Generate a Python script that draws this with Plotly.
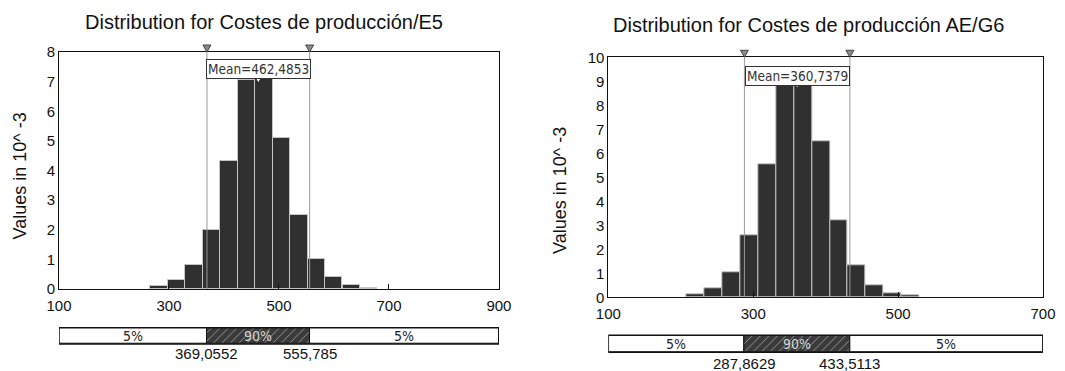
import plotly.graph_objects as go

# ---------------- data ----------------
left_title = "Distribution for Costes de producción/E5"
left_bin_centers = [281.9, 313.7, 345.5, 377.2, 409.0, 440.8, 472.5, 504.3, 536.0, 567.8, 599.6, 631.4, 663.1]
left_bin_width = 31.77
left_values = [0.10, 0.30, 0.80, 2.00, 4.33, 7.05, 7.15, 5.11, 2.51, 1.01, 0.40, 0.14, 0.04]
left_mean = 462.4853
left_p5 = 369.0552
left_p95 = 555.785
left_x_range = [100, 900]
left_x_ticks = [100, 300, 500, 700, 900]
left_y_range = [0, 8]
left_y_ticks = [0, 1, 2, 3, 4, 5, 6, 7, 8]
left_mean_label = "Mean=462,4853"
left_p5_label = "369,0552"
left_p95_label = "555,785"

right_title = "Distribution for Costes de producción AE/G6"
right_bin_centers = [220.6, 245.3, 270.0, 294.7, 319.4, 344.1, 368.8, 393.5, 418.2, 442.9, 467.6, 492.3, 517.0]
right_bin_width = 24.7
right_values = [0.14, 0.39, 1.03, 2.57, 5.55, 8.87, 8.87, 6.51, 3.21, 1.32, 0.50, 0.18, 0.07]
right_mean = 360.7379
right_p5 = 287.8629
right_p95 = 433.5113
right_x_range = [100, 700]
right_x_ticks = [100, 300, 500, 700]
right_y_range = [0, 10]
right_y_ticks = [0, 1, 2, 3, 4, 5, 6, 7, 8, 9, 10]
right_mean_label = "Mean=360,7379"
right_p5_label = "287,8629"
right_p95_label = "433,5113"

y_axis_label = "Values in 10^ -3"
band_labels = ["5%", "90%", "5%"]

# ---------------- styles ----------------
FONT = "Liberation Sans, Arial, sans-serif"
NARROW = "Liberation Sans Narrow, Arial Narrow, DejaVu Sans Condensed, sans-serif"
BAR_COLOR = "#303030"
BAR_EDGE = "#c4c4c4"

fig = go.Figure()

panels = [
    dict(title=left_title, centers=left_bin_centers, width=left_bin_width, values=left_values,
         mean=left_mean, p5=left_p5, p95=left_p95, xr=left_x_range, xt=left_x_ticks,
         yr=left_y_range, yt=left_y_ticks, mlabel=left_mean_label, p5l=left_p5_label,
         p95l=left_p95_label, xdom=[0.0554, 0.4685], ydom=[0.2210, 0.8598],
         bdom=[0.0728, 0.1167], plab_y=0.0476, title_xy=(0.2479, 0.9415),
         ylab_xy=(0.0188, 0.5243), mshift=-7, ax="", bax="3"),
    dict(title=right_title, centers=right_bin_centers, width=right_bin_width, values=right_values,
         mean=right_mean, p5=right_p5, p95=right_p95, xr=right_x_range, xt=right_x_ticks,
         yr=right_y_range, yt=right_y_ticks, mlabel=right_mean_label, p5l=right_p5_label,
         p95l=right_p95_label, xdom=[0.5712, 0.9793], ydom=[0.1987, 0.8456],
         bdom=[0.0504, 0.0962], plab_y=0.0207, title_xy=(0.7590, 0.9326),
         ylab_xy=(0.5258, 0.4879), mshift=-9, ax="2", bax="4"),
]

annotations = []
shapes = []
layout_axes = {}

for p in panels:
    ax, bax = p["ax"], p["bax"]
    xref = "x" + ax
    yref = "y" + ax
    # histogram
    fig.add_trace(go.Bar(
        x=p["centers"], y=p["values"], width=p["width"],
        marker=dict(color=BAR_COLOR, line=dict(color=BAR_EDGE, width=1)),
        xaxis=xref, yaxis=yref, hoverinfo="skip",
    ))
    # percentile band bar
    bases = [p["xr"][0], p["p5"], p["p95"]]
    lengths = [p["p5"] - p["xr"][0], p["p95"] - p["p5"], p["xr"][1] - p["p95"]]
    fig.add_trace(go.Bar(
        orientation="h", y=[0, 0, 0], x=lengths, base=bases, width=1,
        textposition="none",
        marker=dict(
            color=["white", "#3a3a3a", "white"],
            line=dict(color="#111111", width=1),
            pattern=dict(shape=["", "/", ""], fgcolor=["white", "#8c8c8c", "white"],
                         bgcolor=["white", "#3a3a3a", "white"], size=6, solidity=0.15),
        ),
        xaxis="x" + bax, yaxis="y" + bax, hoverinfo="skip",
    ))
    # outline round the band
    shapes.append(dict(type="rect", xref="x" + bax, yref="y" + bax + " domain",
                       x0=p["xr"][0], x1=p["xr"][1], y0=0, y1=1,
                       line=dict(color="#111111", width=1.5), fillcolor="rgba(0,0,0,0)"))
    # band labels (centred in each segment)
    for b, L, lab, col in zip(bases, lengths, band_labels, ["#222222", "#d8d8d8", "#222222"]):
        annotations.append(dict(
            text=lab, x=b + L / 2, xref="x" + bax, y=0, yref="y" + bax, showarrow=False,
            xanchor="center", yanchor="middle",
            font=dict(family=NARROW, size=14, color=col),
        ))

    layout_axes["xaxis" + ax] = dict(
        domain=p["xdom"], range=p["xr"], tickvals=p["xt"], ticktext=[str(v) for v in p["xt"]],
        ticks="inside", ticklen=5, tickcolor="#111111", showgrid=False, zeroline=False,
        showline=True, linecolor="#111111", linewidth=1, mirror=True, automargin=False,
        ticklabelstandoff=3,
        tickfont=dict(family=FONT, size=15, color="#111111"), anchor=yref,
    )
    layout_axes["yaxis" + ax] = dict(
        domain=p["ydom"], range=p["yr"], tickvals=p["yt"], ticktext=[str(v) for v in p["yt"]],
        ticks="", showgrid=False, zeroline=False, showline=True, linecolor="#111111",
        linewidth=1, mirror=True, automargin=False,
        tickfont=dict(family=FONT, size=15, color="#111111"),
        anchor=xref,
    )
    layout_axes["xaxis" + bax] = dict(domain=p["xdom"], range=p["xr"], visible=False,
                                      anchor="y" + bax, automargin=False)
    layout_axes["yaxis" + bax] = dict(domain=p["bdom"], range=[-0.5, 0.5], visible=False,
                                      anchor="x" + bax, automargin=False)

    # percentile lines
    for v in (p["p5"], p["p95"]):
        shapes.append(dict(type="line", xref=xref, yref=yref + " domain", x0=v, x1=v, y0=0, y1=1,
                           line=dict(color="#999999", width=1)))
        # top triangle markers
        shapes.append(dict(type="path", xref=xref, yref=yref + " domain",
                           xsizemode="pixel", ysizemode="pixel", xanchor=v, yanchor=1,
                           path="M-4,7 L4,7 L0,0 Z", fillcolor="#8a8a8a",
                           line=dict(color="#444444", width=1)))
    # mean marker
    shapes.append(dict(type="path", xref=xref, yref=yref + " domain",
                       xsizemode="pixel", ysizemode="pixel", xanchor=p["mean"], yanchor=1,
                       path="M-3.5,-25 L3.5,-25 L0,-31 Z", fillcolor="white",
                       line=dict(color="#222222", width=1)))
    # mean label
    annotations.append(dict(
        text=p["mlabel"], x=p["mean"], xref=xref, y=1, yref=yref + " domain",
        yanchor="top", xanchor="center", yshift=p["mshift"], showarrow=False,
        font=dict(family=NARROW, size=13.5, color="#333333"),
        bgcolor="white", bordercolor="#333333", borderwidth=1, borderpad=1,
    ))
    # percentile value labels
    for v, lab in ((p["p5"], p["p5l"]), (p["p95"], p["p95l"])):
        annotations.append(dict(
            text=lab, x=v, xref=xref, y=p["plab_y"], yref="paper", showarrow=False,
            xanchor="center", yanchor="middle",
            font=dict(family=FONT, size=15, color="#111111"),
        ))
    # title
    annotations.append(dict(
        text=p["title"], x=p["title_xy"][0], y=p["title_xy"][1], xref="paper", yref="paper",
        showarrow=False, xanchor="center", yanchor="middle",
        font=dict(family=FONT, size=20, color="#111111"),
    ))
    # y-axis label
    annotations.append(dict(
        text=y_axis_label, x=p["ylab_xy"][0], y=p["ylab_xy"][1], xref="paper", yref="paper",
        showarrow=False, xanchor="center", yanchor="middle", textangle=-90,
        font=dict(family=FONT, size=18, color="#111111"),
    ))

fig.update_layout(
    width=1065, height=371, margin=dict(l=0, r=0, t=0, b=0, autoexpand=False),
    paper_bgcolor="white", plot_bgcolor="white", showlegend=False,
    bargap=0, barmode="overlay",
    annotations=annotations, shapes=shapes,
    **layout_axes,
)

fig.write_html("out.html")
